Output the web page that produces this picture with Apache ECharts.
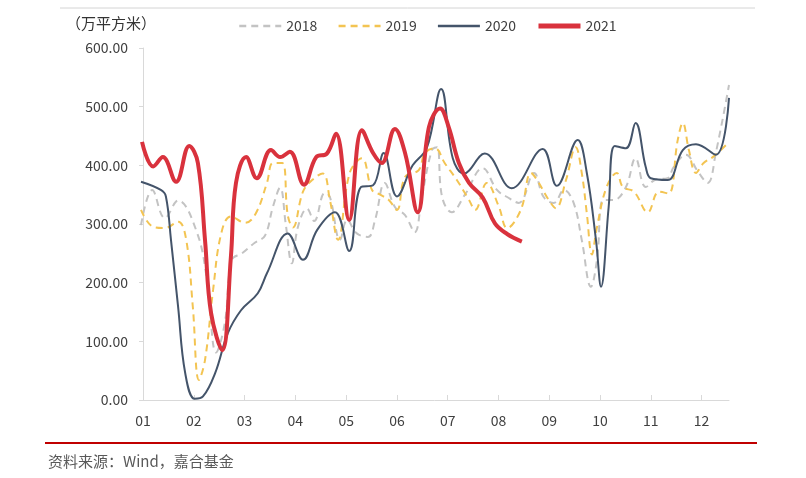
<!DOCTYPE html>
<html>
<head>
<meta charset="utf-8">
<script src="https://cdn.jsdelivr.net/npm/echarts@6/dist/echarts.min.js"></script>
<style>
html,body{margin:0;padding:0;background:#fff;}
#chart{width:806px;height:478px;}
</style>
</head>
<body>
<div id="chart"></div>
<script>
// Month labels
const monthLabels = ['01','02','03','04','05','06','07','08','09','10','11','12'];
const legendNames = ['2018','2019','2020','2021'];
const yTicks = [0,100,200,300,400,500,600];

// Positions in months since Jan 1 and values (万平方米)
const x2018 = [-0.04,0.18,0.43,0.69,1.06,1.26,1.44,1.61,1.75,1.95,2.20,2.40,2.56,2.70,2.81,2.93,3.05,3.23,3.37,3.58,3.68,3.88,4.02,4.21,4.43,4.57,4.76,4.96,5.16,5.35,5.49,5.69,5.79,5.89,6.08,6.34,6.69,6.97,7.17,7.40,7.70,7.89,8.09,8.29,8.48,8.64,8.82,8.94,9.07,9.27,9.51,9.70,9.90,10.10,10.33,10.45,10.69,10.93,11.12,11.28,11.54];
const v2018 = [298,358,310,340,286,204,81,131,239,250,268,280,330,362,300,233,295,326,305,353,346,273,307,284,278,307,370,329,315,286,346,426,431,346,320,350,395,358,346,336,387,346,336,358,336,273,193,239,341,341,363,412,363,376,378,397,418,389,370,421,537];

const x2019 = [-0.04,0.20,0.43,0.69,0.85,0.98,1.10,1.22,1.38,1.54,1.73,2.01,2.22,2.44,2.56,2.74,2.85,2.95,3.15,3.33,3.54,3.68,3.84,4.07,4.31,4.51,4.67,4.84,5.00,5.16,5.43,5.55,5.75,5.94,6.18,6.42,6.54,6.77,7.01,7.17,7.44,7.64,7.76,7.99,8.13,8.33,8.52,8.64,8.74,8.84,8.94,9.13,9.33,9.45,9.67,9.94,10.16,10.35,10.53,10.63,10.75,10.89,11.04,11.22,11.52];
const v2019 = [324,295,293,304,273,159,34,68,188,284,313,302,318,370,404,404,315,294,355,375,386,341,273,387,412,358,350,341,324,380,392,421,429,404,375,341,324,370,329,293,324,387,375,341,327,375,431,387,318,248,295,363,387,363,355,320,355,352,443,472,426,387,404,414,438];

const x2020 = [-0.04,0.35,0.45,0.55,0.69,0.83,1.02,1.18,1.42,1.67,1.93,2.26,2.44,2.85,3.15,3.43,3.78,4.06,4.29,4.53,4.74,5.00,5.31,5.59,5.87,6.10,6.32,6.73,7.26,7.87,8.15,8.56,8.74,8.92,9.02,9.17,9.29,9.51,9.70,9.90,10.00,10.33,10.63,10.89,11.28,11.54];
const v2020 = [372,358,347,273,159,46,2,6,46,114,153,182,216,284,239,290,320,254,363,366,421,347,400,430,530,412,386,420,361,428,365,443,387,273,193,329,433,429,472,397,378,375,426,436,418,515];

const x2021 = [-0.02,0.20,0.39,0.65,0.91,1.08,1.22,1.34,1.56,1.73,1.83,2.03,2.24,2.52,2.70,2.89,3.17,3.41,3.62,3.80,4.06,4.31,4.53,4.70,4.96,5.16,5.41,5.63,5.85,6.02,6.22,6.42,6.69,6.93,7.17,7.46];
const v2021 = [440,398,414,372,433,404,273,148,85,244,370,414,378,426,414,423,367,414,420,454,307,460,421,404,462,421,320,465,497,465,404,370,345,301,283,270];

const pairs = (xs, vs) => xs.map((x, i) => [x, vs[i]]);
const monthTicks = monthLabels.map((_, i) => i);

const chart = echarts.init(document.getElementById('chart'), null, {renderer: 'canvas'});
const font = '"Noto Sans CJK SC", "Liberation Sans", sans-serif';

chart.setOption({
  animation: false,
  backgroundColor: '#fff',
  textStyle: {fontFamily: font},
  grid: {left: 140, right: 77, top: 48, bottom: 78, containLabel: false},
  legend: {
    left: 233, top: 14,
    itemWidth: 42, itemHeight: 12, itemGap: 20,
    itemStyle: {opacity: 0},
    textStyle: {fontSize: 14, color: '#404040', fontFamily: font},
    data: legendNames.map(n => n === '2021' ? {name: n, lineStyle: {width: 5}} : {name: n, lineStyle: {width: 2.5}})
  },
  xAxis: {
    type: 'value', min: -0.06, max: 11.54,
    splitLine: {show: false},
    axisLine: {lineStyle: {color: '#d9d9d9', width: 1}},
    axisTick: {show: true, inside: true, length: 5, lineStyle: {color: '#d9d9d9'}, customValues: monthTicks},
    axisLabel: {
      customValues: monthTicks,
      formatter: v => monthLabels[Math.round(v)] || '',
      fontSize: 14, color: '#404040', margin: 14, fontFamily: font
    }
  },
  yAxis: {
    type: 'value', min: 0, max: 600, interval: 100,
    splitLine: {show: false},
    axisLine: {show: true, lineStyle: {color: '#d9d9d9'}},
    axisTick: {show: true, length: 4, lineStyle: {color: '#d9d9d9'}},
    axisLabel: {formatter: v => v.toFixed(2), fontSize: 14, color: '#404040', margin: 12, fontFamily: font}
  },
  series: [
    {name: '2018', type: 'line', smooth: 0.4, symbol: 'none', z: 2,
     lineStyle: {color: '#C3C3C3', width: 2, type: [7,5]}, itemStyle: {color: '#C3C3C3'},
     data: pairs(x2018, v2018)},
    {name: '2019', type: 'line', smooth: 0.4, symbol: 'none', z: 3,
     lineStyle: {color: '#F3C452', width: 2, type: [7,5]}, itemStyle: {color: '#F3C452'},
     data: pairs(x2019, v2019)},
    {name: '2020', type: 'line', smooth: 0.4, symbol: 'none', z: 4,
     lineStyle: {color: '#44546A', width: 2}, itemStyle: {color: '#44546A'},
     data: pairs(x2020, v2020)},
    {name: '2021', type: 'line', smooth: 0.4, symbol: 'none', z: 5,
     lineStyle: {color: '#D9323D', width: 4}, itemStyle: {color: '#D9323D'},
     data: pairs(x2021, v2021)}
  ],
  graphic: [
    {type: 'line', shape: {x1: 60, y1: 8, x2: 755, y2: 8}, style: {stroke: '#d4d4d4', lineWidth: 1}},
    {type: 'text', left: 66, top: 16, style: {text: '（万平方米）', fontSize: 15, fill: '#333', fontFamily: font}},
    {type: 'line', shape: {x1: 45, y1: 443, x2: 757, y2: 443}, style: {stroke: '#C00000', lineWidth: 2}},
    {type: 'text', left: 48, top: 454, style: {text: '资料来源：Wind，嘉合基金', fontSize: 15, fill: '#595959', fontFamily: font}}
  ]
});
</script>
</body>
</html>
